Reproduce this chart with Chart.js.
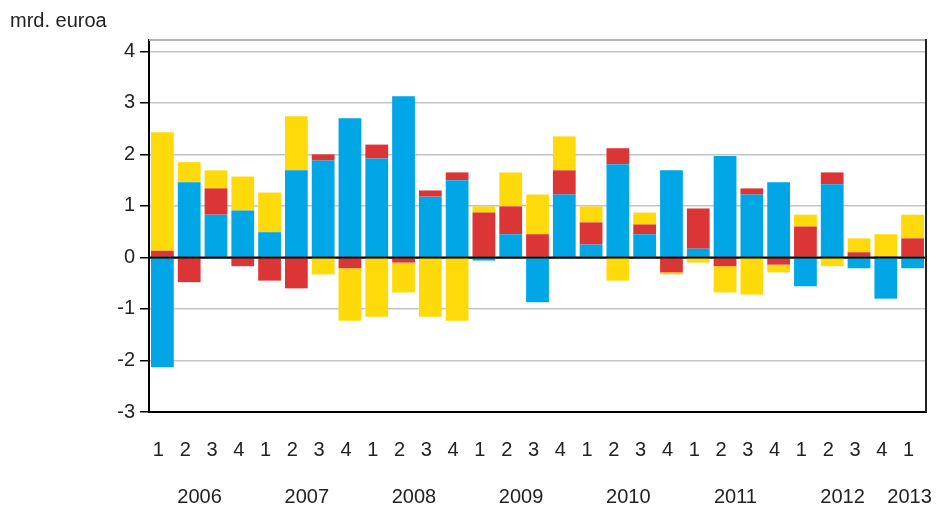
<!DOCTYPE html>
<html>
<head>
<meta charset="utf-8">
<script src="https://cdn.jsdelivr.net/npm/chart.js@4/dist/chart.umd.min.js"></script>
<style>
  body { margin: 0; background: #fff; }
</style>
</head>
<body>
<canvas id="chart" width="937" height="507"></canvas>
<script>
// quarters 2006Q1 - 2013Q1
const quarters = ['1', '2', '3', '4', '1', '2', '3', '4', '1', '2', '3', '4', '1', '2', '3', '4',
    '1', '2', '3', '4', '1', '2', '3', '4', '1', '2', '3', '4', '1'];
const years = ['2006', '2007', '2008', '2009', '2010', '2011', '2012', '2013'];

// values, mrd. euroa
const blueValues = [-2.13, 1.46, 0.83, 0.91, 0.49, 1.69, 1.88, 2.70, 1.92, 3.13, 1.18, 1.50, -0.06, 0.45, -0.87,
    1.22, 0.25, 1.81, 0.45, 1.69, 0.17, 1.97, 1.22, 1.46, -0.56, 1.42, -0.21, -0.80, -0.21];
const redValues = [0.13, -0.48, 0.51, -0.17, -0.45, -0.60, 0.12, -0.21, 0.27, -0.10, 0.12, 0.15, 0.87, 0.54, 0.45,
    0.47, 0.43, 0.31, 0.19, -0.29, 0.78, -0.17, 0.12, -0.14, 0.60, 0.23, 0.10, 0.02, 0.37];
const yellowValues = [2.30, 0.39, 0.35, 0.66, 0.77, 1.05, -0.33, -1.02, -1.15, -0.58, -1.15, -1.23, 0.12, 0.66, 0.77,
    0.66, 0.31, -0.45, 0.23, -0.04, -0.10, -0.51, -0.72, -0.15, 0.23, -0.17, 0.27, 0.43, 0.46];

const yTicks = [-3, -2, -1, 0, 1, 2, 3, 4];

// centre index of each year's quarters
const yearCentres = [];
let start = 0;
quarters.forEach((q, i) => {
    const last = i === quarters.length - 1 || quarters[i + 1] === '1';
    if (last) {
        yearCentres.push((start + i) / 2);
        start = i + 1;
    }
});

const fontFamily = "'Liberation Sans', Arial, sans-serif";
const font = { family: fontFamily, size: 20 };

// zero line on top of the bars, frame top and right, year row under the quarters
const framePlugin = {
    id: 'frame',
    afterDatasetsDraw(chart) {
        const { ctx, chartArea: a, scales } = chart;
        const zero = scales.y.getPixelForValue(0);
        ctx.save();
        ctx.strokeStyle = '#000';
        ctx.lineWidth = 2;
        ctx.beginPath();
        ctx.moveTo(a.left, zero);
        ctx.lineTo(a.right, zero);
        ctx.stroke();
        ctx.strokeStyle = '#b4b4b4';
        ctx.beginPath();
        ctx.moveTo(a.left, a.top);
        ctx.lineTo(a.right, a.top);
        ctx.stroke();
        ctx.strokeStyle = '#222';
        ctx.beginPath();
        ctx.moveTo(a.right, a.top - 1);
        ctx.lineTo(a.right, a.bottom);
        ctx.stroke();
        ctx.restore();
    },
    afterDraw(chart) {
        const { ctx, scales } = chart;
        ctx.save();
        ctx.fillStyle = '#222';
        ctx.font = `${font.size}px ${fontFamily}`;
        ctx.textAlign = 'center';
        ctx.textBaseline = 'middle';
        years.forEach((year, i) => {
            ctx.fillText(year, scales.x.getPixelForValue(yearCentres[i]) - 3, scales.x.bottom + 38);
        });
        ctx.restore();
    }
};

const ctx = document.getElementById('chart').getContext('2d');
new Chart(ctx, {
    type: 'bar',
    data: {
        labels: quarters,
        datasets: [{
            label: 'sininen',
            data: blueValues,
            backgroundColor: '#00a6e6'
        }, {
            label: 'punainen',
            data: redValues,
            backgroundColor: '#dc3535'
        }, {
            label: 'keltainen',
            data: yellowValues,
            backgroundColor: '#ffda0b'
        }]
    },
    options: {
        responsive: false,
        animation: false,
        barPercentage: 0.85,
        categoryPercentage: 1,
        layout: { padding: { left: 10, right: 11, top: 0, bottom: 48 } },
        plugins: {
            legend: { display: false },
            tooltip: { enabled: false },
            title: {
                display: true,
                text: 'mrd. euroa',
                align: 'start',
                color: '#222',
                font: { ...font, weight: 'normal', lineHeight: 1.2 },
                padding: { top: 9, bottom: 7 }
            }
        },
        scales: {
            x: {
                stacked: true,
                grid: { display: false, drawTicks: false },
                border: { color: '#000', width: 2 },
                afterFit: scale => {
                    scale.height = 47;
                    scale.paddingLeft = 0;
                    scale.paddingRight = 0;
                    scale.paddingBottom = 0;
                },
                ticks: {
                    color: '#222',
                    font: { ...font, lineHeight: 1 },
                    padding: 28,
                    labelOffset: -4,
                    maxRotation: 0,
                    autoSkip: false
                }
            },
            y: {
                stacked: true,
                min: yTicks[0],
                max: 4.22,
                afterBuildTicks: scale => {
                    scale.ticks = yTicks.map(v => ({ value: v }));
                },
                afterFit: scale => {
                    scale.width = 139;
                },
                grid: {
                    color: c => c.tick && c.tick.value === 0 ? '#000' : '#c4c4c4',
                    lineWidth: 1.5,
                    tickColor: '#000',
                    tickLength: 9,
                    tickWidth: 1.5
                },
                border: { color: '#000', width: 2 },
                ticks: {
                    color: '#222',
                    font: font,
                    padding: 5
                }
            }
        }
    },
    plugins: [framePlugin]
});
</script>
</body>
</html>
